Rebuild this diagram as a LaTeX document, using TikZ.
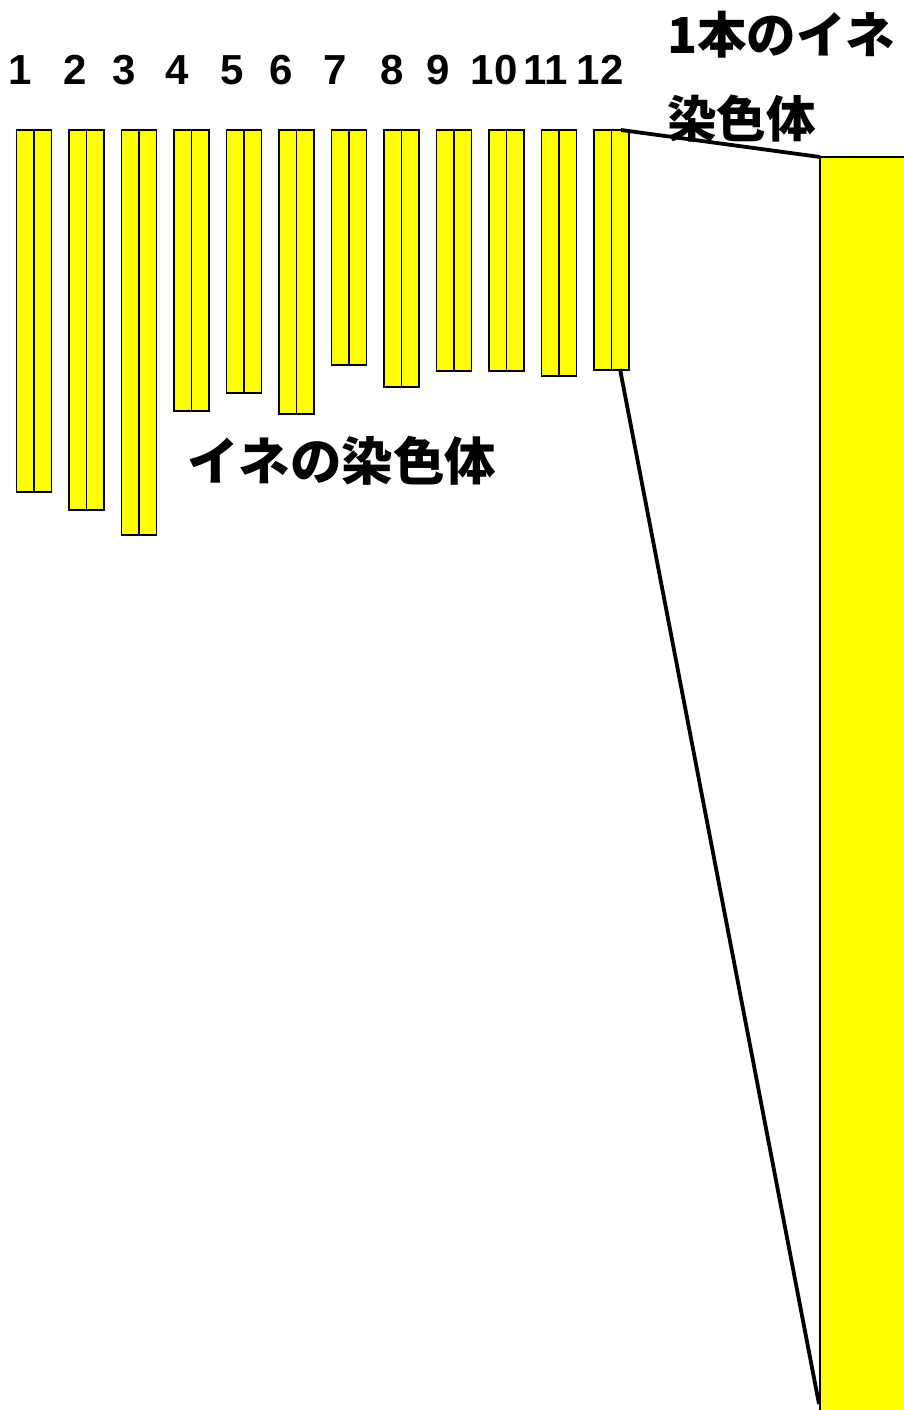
\documentclass[tikz,border=0pt]{standalone}
\usepackage{fontspec}
\setmainfont{Liberation Sans}
\newfontfamily\cjk{Noto Sans CJK JP}
\definecolor{chromyellow}{RGB}{255,255,0}
\begin{document}
\begin{tikzpicture}[x=1pt,y=-1pt,
  chrom/.style={draw=black, fill=chromyellow, line width=1.2pt, inner sep=0pt, outer sep=0pt, minimum width=35pt, anchor=north west},
  bigchrom/.style={draw=black, fill=chromyellow, line width=1.2pt},
  numlabel/.style={font=\fontsize{42}{50}\selectfont\bfseries, inner sep=0pt, anchor=base},
  jlabel/.style={font=\fontsize{51.5}{83}\selectfont\cjk\bfseries, inner sep=0pt},
  link/.style={draw=black, line width=3.8pt}]
\useasboundingbox (0,0) rectangle (903,1410);
\fill[white] (0,0) rectangle (903,1410);
% chromosome pairs
\foreach \i/\b/\nx in {1/492/20,2/510/75,3/535/124,4/411/177,5/393/232,6/414/281,7/365/335,8/387/392,9/371/438,10/371/494,11/376/546,12/370/600}{
  \pgfmathsetmacro{\xl}{16.5+(\i-1)*52.5}
  \pgfmathsetmacro{\hh}{\b-130}
  \node[chrom, minimum height=\hh pt] (c\i) at (\xl,130) {};
  \draw[line width=1.2pt] (c\i.north) -- (c\i.south);
  \node[numlabel] (n\i) at (\nx,85) {\i};
}
% enlarged chromosome
\node[bigchrom, inner sep=0pt, outer sep=0pt, minimum width=100pt, minimum height=1280pt, anchor=north west] (big) at (820,157) {};
% connectors
\coordinate (t12) at (621,130);
\coordinate (b12) at (620,369);
\coordinate (bigb) at (819,1404);
\draw[link] (t12) -- (big.north west);
\draw[link] (b12) -- (bigb);
% labels
\node[jlabel, anchor=west] (lab1) at (187,461) {イネの染色体};
\node[jlabel, anchor=base west, align=left, font=\fontsize{49.5}{83}\selectfont\cjk\bfseries] (lab2) at (667,137) {1本のイネ\\染色体};
\end{tikzpicture}
\end{document}
